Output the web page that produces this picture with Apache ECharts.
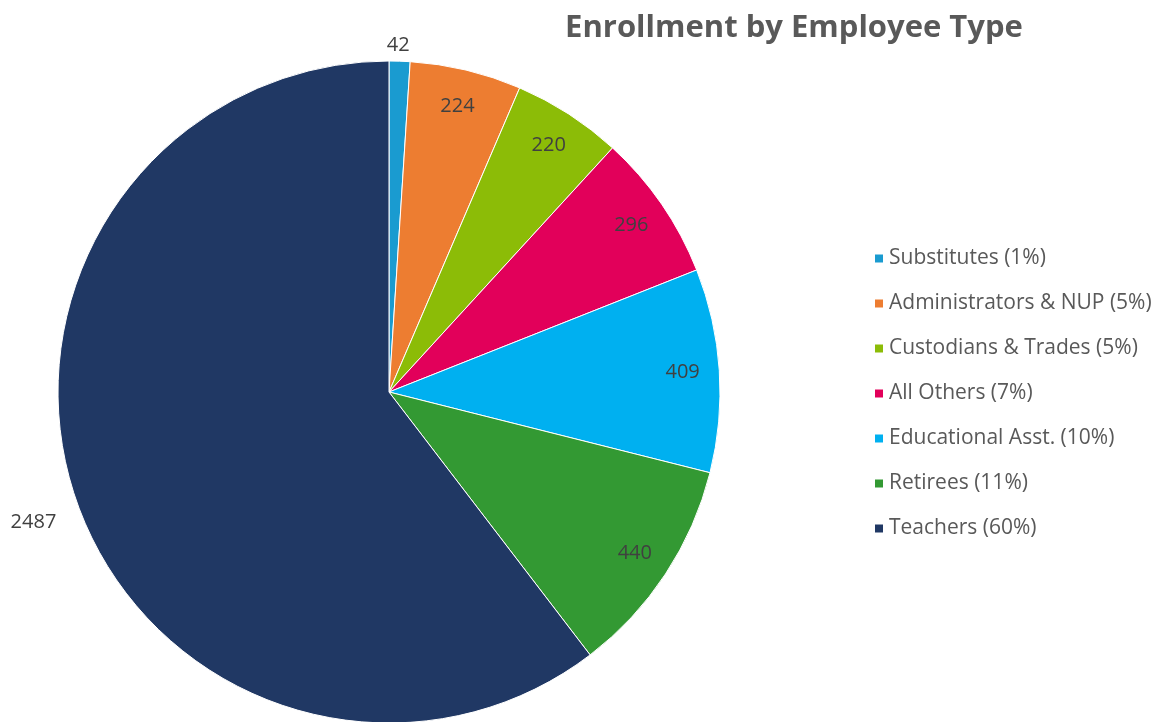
<!DOCTYPE html>
<html><head><meta charset="utf-8">
<script src="https://cdn.jsdelivr.net/npm/echarts@6/dist/echarts.min.js"></script>
<style>html,body{margin:0;padding:0;background:#fff}#c{width:1162px;height:722px}</style>
</head><body><div id="c"></div>
<script>
const categories = ['Substitutes','Administrators & NUP','Custodians & Trades','All Others','Educational Asst.','Retirees','Teachers'];
const values = [42,224,220,296,409,440,2487];
const colors = ['#1A9BD0','#ED7D31','#8CBC07','#E2005A','#00B0F0','#339933','#203864'];
const outsideLabels = ['Substitutes','Teachers'];

const total = values.reduce((a,b)=>a+b,0);
const pctName = {};
categories.forEach((c,i)=>{ pctName[c] = c + ' (' + Math.round(values[i]/total*100) + '%)'; });

const font = '"Open Sans", "Noto Sans", sans-serif';
const cx = 389, cy = 392, R = 331;

const mainData = categories.map((c,i)=>({
  name: c, value: values[i], itemStyle:{color:colors[i]},
  label: {show: outsideLabels.includes(c)},
  labelLine: {show:false, length: c==='Substitutes'?8:16, length2:0}
}));
const overlayData = categories.map((c,i)=>({
  name: c, value: values[i], itemStyle:{color:'rgba(0,0,0,0)'},
  label: {show: !outsideLabels.includes(c)}
}));

const chart = echarts.init(document.getElementById('c'));
chart.setOption({
  animation:false,
  title:{text:'Enrollment by Employee Type', left:789, top:8, textAlign:'center',
    textStyle:{fontFamily:font, fontSize:31, fontWeight:'bold', color:'#595959'}},
  legend:{orient:'vertical', left:868, top:243, itemWidth:10, itemHeight:10, itemGap:24,
    icon:'rect', data:categories,
    formatter: n => pctName[n],
    textStyle:{fontFamily:font, fontSize:21, lineHeight:21, color:'#595959'}},
  series:[
    {type:'pie', name:'main', center:[cx,cy], radius:[0,R], startAngle:90, clockwise:true,
     avoidLabelOverlap:false, data:mainData,
     itemStyle:{borderColor:'#fff', borderWidth:1},
     label:{position:'outside', formatter:'{c}', fontFamily:font, fontSize:20, color:'#404040', distanceToLabelLine:2},
     labelLayout: p => p.dataIndex === 0 ? {dx:-15, dy:-8} : (p.dataIndex === 6 ? {dx:-2, dy:19} : {}),
     emphasis:{disabled:true}},
    {type:'pie', name:'labels', center:[cx,cy], radius:[R*0.76,R], startAngle:90, clockwise:true,
     silent:true, avoidLabelOverlap:false, data:overlayData, legendHoverLink:false,
     label:{position:'inside', formatter:'{c}', fontFamily:font, fontSize:20, color:'#404040'},
     labelLine:{show:false}, emphasis:{disabled:true}}
  ]
});
</script></body></html>
